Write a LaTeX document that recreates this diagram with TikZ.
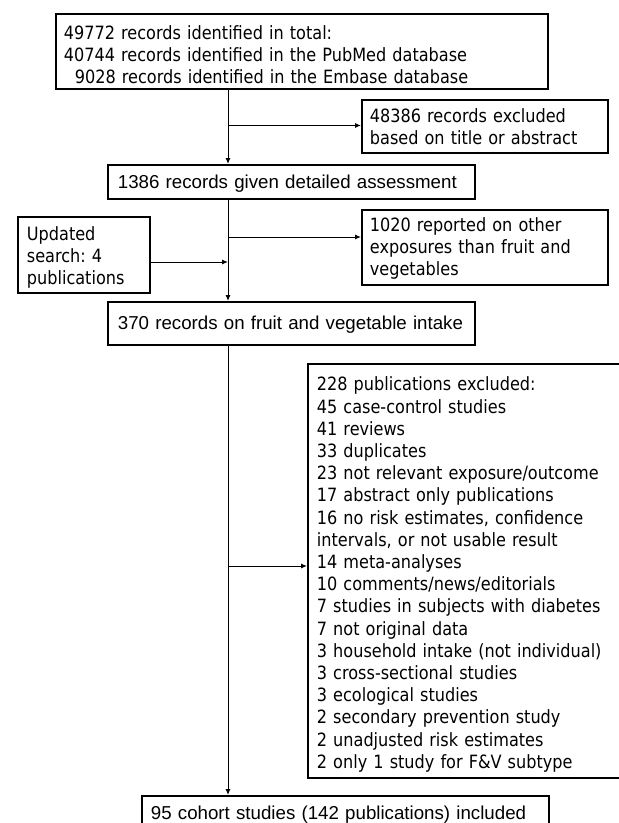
\documentclass[tikz,border=0pt]{standalone}
\usepackage{fontspec}
\setmainfont[FakeStretch=0.88]{DejaVu Sans}
\newfontfamily\arialfont{Liberation Sans}
\usetikzlibrary{arrows.meta}
\frenchspacing
\newcommand{\gapt}[1]{\rule{0pt}{#1}}
\begin{document}
\begin{tikzpicture}[x=1pt,y=-1pt,
  box/.style={draw=black, line width=1.8pt, anchor=north west, align=left,
    inner ysep=0pt, font=\fontsize{18.3}{22}\selectfont},
  abox/.style={box, font=\arialfont\fontsize{18.7}{22}\selectfont},
  conn/.style={line width=1pt, -{Latex[length=6pt,width=5pt]}}]
\clip (0,0) rectangle (619,823);
\fill[white] (0,0) rectangle (619,823);

\coordinate (col) at (228,0);

\node[box, inner xsep=8pt, text width=476pt, minimum height=75pt] (top) at (55,13)
  {\gapt{20pt}49772 records identified in total:\\
   40744 records identified in the PubMed database\\
   \hspace*{11pt}9028 records identified in the Embase database};

\node[box, inner xsep=8pt, text width=230pt, minimum height=53pt] (exc1) at (361,99)
  {\gapt{15pt}48386 records excluded\\based on title or abstract};

\node[abox, inner xsep=10pt, text width=347pt, minimum height=34pt] (r1386) at (107,164)
  {\gapt{16.6pt}1386 records given detailed assessment};

\node[box, inner xsep=8pt, text width=230pt, minimum height=75pt] (exc2) at (361,209)
  {\gapt{16pt}1020 reported on other\\exposures than fruit and\\vegetables};

\node[box, inner xsep=9pt, text width=114pt, minimum height=76pt] (upd) at (17,216)
  {\gapt{18pt}Updated\\search: 4\\publications};

\node[abox, inner xsep=10pt, text width=347pt, minimum height=43pt] (r370) at (107,301)
  {\gapt{15.6pt}370 records on fruit and vegetable intake};

\node[box, inner xsep=9pt, text width=305pt, minimum height=414pt,
      font=\fontsize{18.3}{22.2}\selectfont] (excl) at (307,363)
  {\gapt{21pt}228 publications excluded:\\
   45 case-control studies\\
   41 reviews\\
   33 duplicates\\
   23 not relevant exposure/outcome\\
   17 abstract only publications\\
   16 no risk estimates, confidence\\
   intervals, or not usable result\\
   14 meta-analyses\\
   10 comments/news/editorials\\
   7 studies in subjects with diabetes\\
   7 not original data\\
   3 household intake (not individual)\\
   3 cross-sectional studies\\
   3 ecological studies\\
   2 secondary prevention study\\
   2 unadjusted risk estimates\\
   2 only 1 study for F\&V subtype};

\node[abox, inner xsep=9pt, text width=389pt, minimum height=34pt] (final) at (141,795)
  {\gapt{16.6pt}95 cohort studies (142 publications) included};

\coordinate (b1) at (228,125.5);
\coordinate (b2) at (228,237);
\coordinate (b3) at (228,262);
\coordinate (b4) at (228,566);

\draw[conn] (top.south -| col) -- (r1386.north -| col);
\draw[conn] (b1) -- (b1 -| exc1.west);
\draw[conn] (r1386.south -| col) -- (r370.north -| col);
\draw[conn] (b2) -- (b2 -| exc2.west);
\draw[conn] (b3 -| upd.east) -- (b3);
\draw[conn] (r370.south -| col) -- (final.north -| col);
\draw[conn] (b4) -- (b4 -| excl.west);
\end{tikzpicture}
\end{document}
